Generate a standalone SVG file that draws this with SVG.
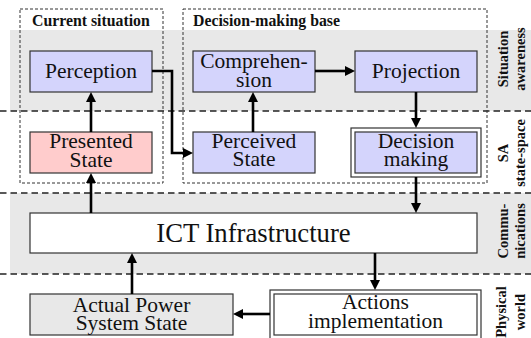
<svg xmlns="http://www.w3.org/2000/svg" width="531" height="338" viewBox="0 0 531 338">
<defs>
<style>
.band{fill:#e8e8e8;stroke:none}
.sep{stroke:#222;stroke-width:1.3;stroke-dasharray:6.5 4;fill:none}
.grp{fill:none;stroke:#333;stroke-width:1;stroke-dasharray:3 2}
.ttl{font-family:'Liberation Serif',serif;font-weight:bold;font-size:15.8px;fill:#111}
.lbl{font-family:'Liberation Serif',serif;font-weight:bold;font-size:14.5px;fill:#111;text-anchor:middle}
.box{stroke:#333;stroke-width:1.2}
.blue{fill:#d4d4fc}
.pink{fill:#ffcccc}
.grey{fill:#e8e8e8}
.white{fill:#ffffff}
.txt{font-family:'Liberation Serif',serif;font-size:21.5px;fill:#111;text-anchor:middle}
.big{font-size:26.7px}
.conn{fill:none;stroke:#000;stroke-width:2.6;marker-end:url(#ah)}
</style>
<marker id="ah" viewBox="0 0 10 10" markerWidth="10" markerHeight="10" markerUnits="userSpaceOnUse" refX="0" refY="5" orient="auto">
<path d="M0,0 L10,5 L0,10 z" fill="#000"/>
</marker>
</defs>

<g id="bands">
<rect class="band" x="10" y="30" width="521" height="81"/>
<rect class="band" x="10" y="193" width="521" height="81"/>
<line class="sep" x1="0" y1="111" x2="531" y2="111"/>
<line class="sep" x1="0" y1="193" x2="531" y2="193"/>
<line class="sep" x1="0" y1="274" x2="531" y2="274"/>
</g>

<g id="group-current">
<rect class="grp" x="20" y="9" width="143" height="174"/>
<text class="ttl" x="32" y="25.5">Current situation</text>
</g>
<g id="group-decision">
<rect class="grp" x="183" y="9" width="304" height="174"/>
<text class="ttl" x="193" y="25.5">Decision-making base</text>
</g>

<g id="layer-labels">
<text class="lbl" transform="translate(508,59) rotate(-90)">Situation</text>
<text class="lbl" transform="translate(525,59) rotate(-90)">awareness</text>
<text class="lbl" transform="translate(508,153) rotate(-90)">SA</text>
<text class="lbl" transform="translate(525,153) rotate(-90)">state-space</text>
<text class="lbl" transform="translate(508,231) rotate(-90)">Commu-</text>
<text class="lbl" transform="translate(525,231) rotate(-90)">nications</text>
<text class="lbl" transform="translate(506,312) rotate(-90)">Physical</text>
<text class="lbl" transform="translate(525,312) rotate(-90)">world</text>
</g>

<g id="perception">
<rect class="box blue" x="30" y="51" width="122" height="41"/>
<text class="txt" x="91" y="78">Perception</text>
</g>
<g id="presented-state">
<rect class="box pink" x="30" y="132" width="122" height="41"/>
<text class="txt" x="91" y="148">Presented</text>
<text class="txt" x="91" y="166.5">State</text>
</g>
<g id="comprehension">
<rect class="box blue" x="193" y="51" width="122" height="41"/>
<text class="txt" x="254" y="68">Comprehen-</text>
<text class="txt" x="254" y="86.5">sion</text>
</g>
<g id="perceived-state">
<rect class="box blue" x="193" y="132" width="122" height="41"/>
<text class="txt" x="254" y="147.5">Perceived</text>
<text class="txt" x="254" y="166">State</text>
</g>
<g id="projection">
<rect class="box blue" x="355" y="51" width="122" height="41"/>
<text class="txt" x="416" y="78">Projection</text>
</g>
<g id="decision-making">
<rect class="box white" x="351" y="128" width="130" height="49"/>
<rect class="box blue" x="355" y="132" width="122" height="41"/>
<text class="txt" x="416" y="148">Decision</text>
<text class="txt" x="416" y="165.5">making</text>
</g>
<g id="ict">
<rect class="box white" x="30" y="213" width="447" height="40"/>
<text class="txt big" x="253.5" y="242">ICT Infrastructure</text>
</g>
<g id="actual-power">
<rect class="box grey" x="30" y="294" width="203" height="41"/>
<text class="txt" x="131.5" y="312">Actual Power</text>
<text class="txt" x="131.5" y="330">System State</text>
</g>
<g id="actions">
<rect class="box white" x="270" y="290" width="211" height="50"/>
<rect class="box white" x="274" y="294" width="203" height="41"/>
<text class="txt" x="375.5" y="309">Actions</text>
<text class="txt" x="375.5" y="328">implementation</text>
</g>

<g id="connectors">
<path class="conn" d="M91,132 V102"/>
<path class="conn" d="M91,213 V183"/>
<path class="conn" d="M132,294 V263"/>
<path class="conn" d="M152,71 H172 V153 H183"/>
<path class="conn" d="M253,132 V102"/>
<path class="conn" d="M315,71 H345"/>
<path class="conn" d="M416,92 V118"/>
<path class="conn" d="M416,177 V203"/>
<path class="conn" d="M375,253 V280"/>
<path class="conn" d="M270,314 H243"/>
</g>
</svg>
